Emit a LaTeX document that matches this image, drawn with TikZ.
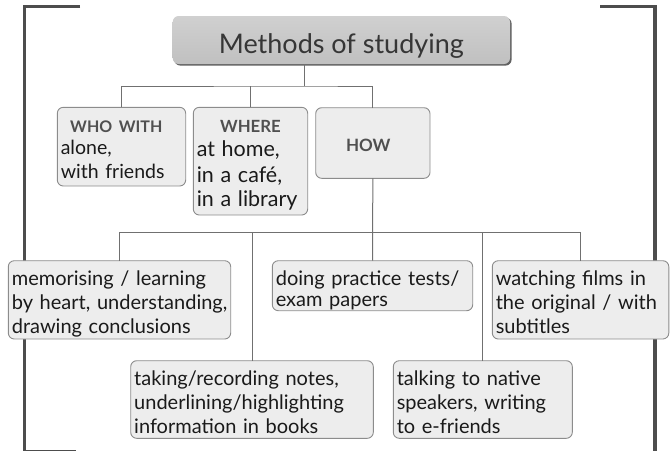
\documentclass[tikz,border=0pt]{standalone}
\usepackage{fontspec}
\setmainfont{Lato}
\usetikzlibrary{shadows}
\definecolor{boxfill}{HTML}{EDEDED}
\definecolor{boxline}{HTML}{8C8C8C}
\definecolor{connc}{HTML}{707070}
\definecolor{brack}{HTML}{4D4D4D}
\definecolor{txt}{HTML}{1A1A1A}
\definecolor{head}{HTML}{505050}
\definecolor{titletop}{HTML}{D0D0D0}
\definecolor{titlebot}{HTML}{C0C0C0}
\definecolor{titletxt}{HTML}{363636}
\newcommand{\bodyfont}{\fontsize{20}{24}\selectfont}
\newcommand{\headfont}[1]{\fontsize{#1}{19}\selectfont\bfseries\color{head}}
\tikzset{
  infobox/.style={draw=boxline, fill=boxfill, line width=0.9pt, rounded corners=6pt,
    inner xsep=3.5pt, inner ysep=0pt, outer sep=0pt, anchor=north west, align=left,
    text=txt, font=\bodyfont},
  connector/.style={draw=connc, line width=1pt},
  bracket/.style={draw=brack, line width=3.5pt},
  titlebox/.style={rounded corners=6pt, top color=titletop, bottom color=titlebot,
    inner sep=0pt, outer sep=0pt, anchor=north west, text=titletxt,
    font=\fontsize{27}{32}\selectfont,
    drop shadow={shadow xshift=1.6pt, shadow yshift=-1.6pt, fill=black!62, opacity=1}},
}
\begin{document}
\begin{tikzpicture}[x=1pt,y=-1pt]
\useasboundingbox (0,0) rectangle (672,450);
% brackets
\draw[bracket] (80,6.5) -- (24.5,6.5) -- (24.5,451.5) -- (76,451.5);
\draw[bracket] (600,6.5) -- (655,6.5) -- (655,453);
% title
\node[titlebox, minimum width=337.3pt, text height=37.3pt, text depth=10.7pt] (title) at (172.7,16) {Methods of studying};
% first level
\node[infobox, text width=121.4pt, text height=25.4pt, text depth=53.3pt] (who) at (57.3,107.3)
  {\makebox[111pt][c]{\headfont{16}WHO WITH}\par
   \fontsize{19.5}{22}\selectfont alone,\par with friends};
\node[infobox, text width=107.4pt, text height=25.4pt, text depth=82.3pt] (where) at (193.3,107.3)
  {\makebox[\linewidth][c]{\headfont{16.8}WHERE}\par
   \fontsize{21.5}{24}\selectfont at home,\par \baselineskip=26pt in a café,\par in a library};
\node[infobox, align=center, text width=107.3pt, text height=44pt, text depth=26.6pt] (how) at (315.7,107.7)
  {\hspace*{-9pt}\headfont{17}HOW};
% second level
\node[infobox, text width=215.4pt, text height=25pt, text depth=53.3pt] (mem) at (8.3,260.7)
  {\mbox{memorising / learning}\\\mbox{by heart, understanding,}\\\mbox{drawing conclusions}};
\node[infobox, text width=193.4pt, text height=24.3pt, text depth=25.7pt, font=\fontsize{20}{21}\selectfont] (doing) at (272.3,260.7)
  {\mbox{doing practice tests/}\\\mbox{exam papers}};
\node[infobox, text width=169.5pt, text height=24.3pt, text depth=54pt] (watch) at (492.3,260.7)
  {\mbox{watching films in}\\\mbox{the original / with}\\\mbox{subtitles}};
\node[infobox, text width=235.6pt, text height=24.3pt, text depth=53.3pt] (taking) at (130.7,360.7)
  {\mbox{taking/recording notes,}\\\mbox{underlining/highlighting}\\\mbox{information in books}};
\node[infobox, text width=172pt, text height=24.3pt, text depth=53.3pt] (talking) at (393.3,360.7)
  {\mbox{talking to native}\\\mbox{speakers, writing}\\\mbox{to e-friends}};
% connectors
\coordinate (j1) at (304,86);
\coordinate (j2) at (372.7,232.7);
\draw[connector] (title.south -| j1) -- (j1);
\draw[connector] (who.north) |- (j1) -| (how.north);
\draw[connector] (where.north) -- (where.north |- j1);
\draw[connector] (how.south) -- (doing.north);
\draw[connector] (mem.north) |- (j2) -| (watch.north);
\draw[connector] (taking.north) -- (taking.north |- j2);
\draw[connector] (talking.north) -- (talking.north |- j2);
\end{tikzpicture}
\end{document}
